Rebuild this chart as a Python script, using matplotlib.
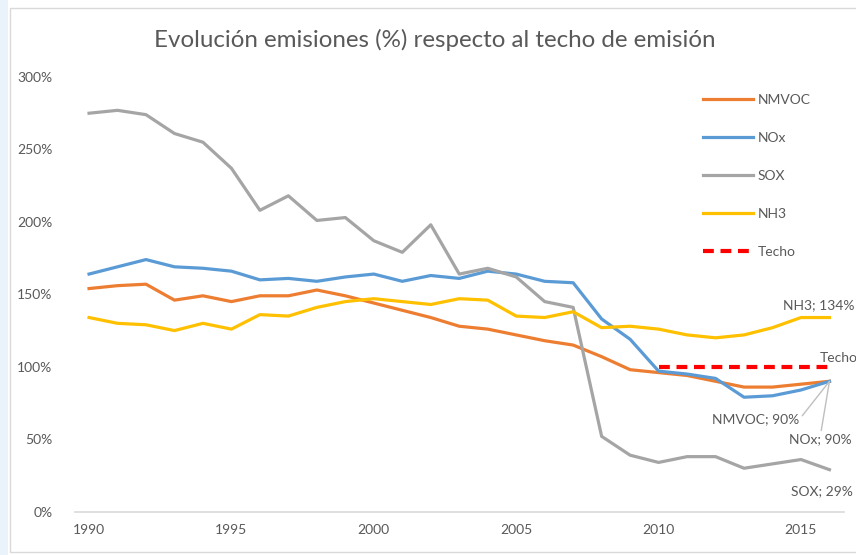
import matplotlib.pyplot as plt
from matplotlib.patches import Rectangle

plt.rcParams['font.family'] = ['Lato', 'DejaVu Sans']

years = list(range(1990, 2017))
nmvoc = [154, 156, 157, 146, 149, 145, 149, 149, 153, 149, 144, 139, 134, 128, 126, 122, 118, 115,
         107, 98, 96, 94, 90, 86, 86, 88, 90]
nox = [164, 169, 174, 169, 168, 166, 160, 161, 159, 162, 164, 159, 163, 161, 166, 164, 159, 158,
       133, 119, 97, 95, 92, 79, 80, 84, 90]
sox = [275, 277, 274, 261, 255, 237, 208, 218, 201, 203, 187, 179, 198, 164, 168, 162, 145, 141,
       52, 39, 34, 38, 38, 30, 33, 36, 29]
nh3 = [134, 130, 129, 125, 130, 126, 136, 135, 141, 145, 147, 145, 143, 147, 146, 135, 134, 138,
       127, 128, 126, 122, 120, 122, 127, 134, 134]
techo_years = list(range(2010, 2017))
techo = [100] * len(techo_years)

yticks = [0, 50, 100, 150, 200, 250, 300]
xticks = [1990, 1995, 2000, 2005, 2010, 2015]

text_grey = "#595959"

fig = plt.figure(figsize=(8.56, 5.55), dpi=100)
# chart frame and light strip at left edge
fig.patches.append(Rectangle((0, 0), 8 / 856, 1, transform=fig.transFigure,
                             facecolor="#eaf3fa", edgecolor="none"))
fig.patches.append(Rectangle((10 / 856, 3 / 555), 1.0, 1 - 11 / 555, transform=fig.transFigure,
                             facecolor="none", edgecolor="#d9d9d9", linewidth=1))

ax = fig.add_axes([74.8 / 856, 43.3 / 555, 768.9 / 856, 434.7 / 555])
ax.plot(years, nmvoc, color="#ED7D31", lw=2.3, label="NMVOC", solid_joinstyle="round")
ax.plot(years, nox, color="#5B9BD5", lw=2.3, label="NOx", solid_joinstyle="round")
ax.plot(years, sox, color="#A5A5A5", lw=2.3, label="SOX", solid_joinstyle="round")
ax.plot(years, nh3, color="#FFC000", lw=2.3, label="NH3", solid_joinstyle="round")
ax.plot(techo_years, techo, color="#FF0000", lw=3, ls=(0, (2.6, 1.6)), label="Techo")

ax.set_xlim(1989.5, 2016.5)
ax.set_ylim(0, 300)
ax.set_xticks(xticks)
ax.set_yticks(yticks)
ax.set_yticklabels([f"{v}%" for v in yticks])
for s in ["top", "right", "left"]:
    ax.spines[s].set_visible(False)
ax.spines["bottom"].set_color("#d9d9d9")
ax.spines["bottom"].set_linewidth(1.2)
ax.tick_params(axis="both", length=0, labelsize=10, labelcolor=text_grey)
ax.tick_params(axis="y", pad=16)
ax.tick_params(axis="x", pad=9)

fig.text(0.508, 1 - 40 / 555, "Evolución emisiones (%) respecto al techo de emisión",
         ha="center", va="center", fontsize=17.4, color=text_grey)

ax.legend(loc="upper left", bbox_to_anchor=(703 / 856, 1 - 94 / 555),
          bbox_transform=fig.transFigure, frameon=False, fontsize=10,
          handlelength=3.6, handletextpad=0.35, labelspacing=1.87,
          borderpad=0, borderaxespad=0, labelcolor=text_grey)

# end-of-series data labels
lead = dict(arrowstyle="-", color="#bfbfbf", lw=1, shrinkA=0, shrinkB=0)
ax.annotate(f"NH3; {nh3[-1]}%", xy=(years[-1], nh3[-1]), xytext=(-46, 12),
            textcoords="offset pixels", ha="left", va="center", fontsize=10,
            color=text_grey, annotation_clip=False)
ax.annotate("Techo", xy=(techo_years[-1], techo[-1]), xytext=(-10, 9),
            textcoords="offset pixels", ha="left", va="center", fontsize=10,
            color=text_grey, annotation_clip=False)
ax.annotate(f"NMVOC; {nmvoc[-1]}%", xy=(years[-1], nmvoc[-1]), xytext=(-30, -38),
            textcoords="offset pixels", ha="right", va="center", fontsize=10,
            color=text_grey, arrowprops=dict(lead, relpos=(1, 0.5)), annotation_clip=False)
ax.annotate(f"NOx; {nox[-1]}%", xy=(years[-1], nox[-1]), xytext=(-40, -58),
            textcoords="offset pixels", ha="left", va="center", fontsize=10,
            color=text_grey, arrowprops=dict(lead, relpos=(0.5, 1)), annotation_clip=False)
ax.annotate(f"SOX; {sox[-1]}%", xy=(years[-1], sox[-1]), xytext=(-38, -21),
            textcoords="offset pixels", ha="left", va="center", fontsize=10,
            color=text_grey, annotation_clip=False)

fig.savefig("out.png", dpi=100)
